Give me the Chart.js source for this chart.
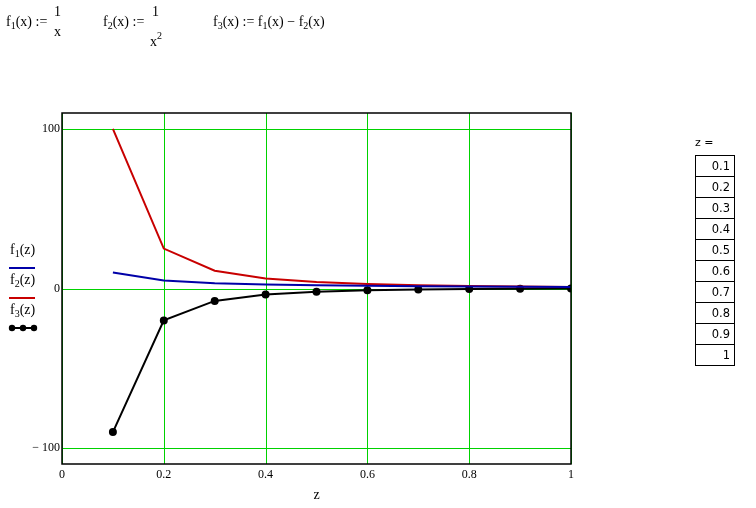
<!DOCTYPE html>
<html>
<head>
<meta charset="utf-8">
<script src="https://cdn.jsdelivr.net/npm/chart.js@4"></script>
<style>
  body { margin: 0; background: #fff; width: 756px; height: 508px; position: relative; overflow: hidden; }
  canvas { position: absolute; left: 0; top: 0; }
  .t { position: absolute; font-family: "Liberation Serif", serif; font-size: 14px; color: #000; white-space: nowrap; }
  .t sub { font-size: 10px; vertical-align: -3px; }
  .t sup { font-size: 10px; vertical-align: 7px; }
  .sample { position: absolute; height: 2px; width: 26px; }
  #ztable { position: absolute; left: 695px; top: 155px; border-collapse: collapse; font-family: "DejaVu Sans", sans-serif; font-size: 11.5px; }
  #ztable td { border: 1px solid #000; width: 39px; height: 21px; padding: 0 4px 0 0; text-align: right; box-sizing: border-box; }
</style>
</head>
<body>
<canvas id="chart" width="756" height="508"></canvas>

<!-- definitions at the top -->
<div class="t" style="left:6px;top:14px">f<sub>1</sub>(x) :=</div>
<div class="t" style="left:54px;top:4px">1</div>
<div class="t" style="left:54px;top:24px">x</div>
<div class="t" style="left:103px;top:14px">f<sub>2</sub>(x) :=</div>
<div class="t" style="left:152px;top:4px">1</div>
<div class="t" style="left:150px;top:30px">x<sup>2</sup></div>
<div class="t" style="left:213px;top:14px">f<sub>3</sub>(x) := f<sub>1</sub>(x) − f<sub>2</sub>(x)</div>

<!-- legend -->
<div class="t" style="left:10px;top:242px">f<sub>1</sub>(z)</div>
<div class="sample" style="left:9px;top:267px;background:#0000a8"></div>
<div class="t" style="left:10px;top:272px">f<sub>2</sub>(z)</div>
<div class="sample" style="left:9px;top:297px;background:#c80000"></div>
<div class="t" style="left:10px;top:302px">f<sub>3</sub>(z)</div>
<canvas id="dots" width="30" height="10" style="left:8px;top:323px"></canvas>

<!-- z table -->
<div class="t" style="left:695px;top:136px;font-family:'DejaVu Sans',sans-serif;font-size:11px">z =</div>
<table id="ztable"></table>

<script>
// data
var zValues = [0.1, 0.2, 0.3, 0.4, 0.5, 0.6, 0.7, 0.8, 0.9, 1];
var f1Values = [10, 5, 3.333, 2.5, 2, 1.667, 1.429, 1.25, 1.111, 1];
var f2Values = [100, 25, 11.111, 6.25, 4, 2.778, 2.041, 1.563, 1.235, 1];
var f3Values = [-90, -20, -7.778, -3.75, -2, -1.111, -0.612, -0.313, -0.123, 0];
var xTicks = [0, 0.2, 0.4, 0.6, 0.8, 1];
var yTicks = [-100, 0, 100];
var tableLabels = ['0.1', '0.2', '0.3', '0.4', '0.5', '0.6', '0.7', '0.8', '0.9', '1'];

var gridGreen = 'rgb(0, 210, 0)';
var serif = 'Liberation Serif';

function toPoints(ys) {
    return zValues.map(function (z, i) { return { x: z, y: ys[i] }; });
}

// fill the value table
var table = document.getElementById('ztable');
tableLabels.forEach(function (lbl) {
    var row = table.insertRow();
    row.insertCell().textContent = lbl;
});

// little legend sample for the dotted series
var dctx = document.getElementById('dots').getContext('2d');
dctx.strokeStyle = '#000';
dctx.lineWidth = 2;
dctx.beginPath(); dctx.moveTo(3, 5); dctx.lineTo(27, 5); dctx.stroke();
[4, 15, 26].forEach(function (x) {
    dctx.beginPath(); dctx.arc(x, 5, 3.2, 0, Math.PI * 2); dctx.fillStyle = '#000'; dctx.fill();
});

// crisp green grid (drawn from the scales) and a black frame around the plot area
var gridPlugin = {
    id: 'mcGrid',
    beforeDatasetsDraw: function (chart) {
        var a = chart.chartArea;
        var c = chart.ctx;
        c.save();
        c.strokeStyle = gridGreen;
        c.lineWidth = 1;
        xTicks.forEach(function (v) {
            var px = Math.round(chart.scales.x.getPixelForValue(v)) + 0.5;
            c.beginPath(); c.moveTo(px, a.top); c.lineTo(px, a.bottom); c.stroke();
        });
        yTicks.forEach(function (v) {
            var py = Math.round(chart.scales.y.getPixelForValue(v)) + 0.5;
            c.beginPath(); c.moveTo(a.left, py); c.lineTo(a.right, py); c.stroke();
        });
        c.restore();
    },
    afterDraw: function (chart) {
        var a = chart.chartArea;
        var c = chart.ctx;
        c.save();
        c.strokeStyle = '#000';
        c.lineWidth = 1.5;
        c.strokeRect(a.left, a.top, a.right - a.left, a.bottom - a.top);
        c.restore();
    }
};

var ctx = document.getElementById('chart').getContext('2d');
new Chart(ctx, {
    type: 'line',
    data: {
        datasets: [
            { label: 'f1(z)', data: toPoints(f1Values), borderColor: '#0000a8', borderWidth: 2, pointRadius: 0 },
            { label: 'f2(z)', data: toPoints(f2Values), borderColor: '#c80000', borderWidth: 2, pointRadius: 0 },
            { label: 'f3(z)', data: toPoints(f3Values), borderColor: '#000', backgroundColor: '#000', borderWidth: 2, pointRadius: 3 }
        ]
    },
    options: {
        responsive: false,
        animation: false,
        layout: { padding: { left: 0, top: 113, right: 185, bottom: 0 } },
        elements: { line: { tension: 0 } },
        plugins: { legend: { display: false }, tooltip: { enabled: false } },
        scales: {
            x: {
                type: 'linear',
                min: 0,
                max: 1,
                afterFit: function (s) { s.height = 44; },
                afterBuildTicks: function (s) { s.ticks = xTicks.map(function (v) { return { value: v }; }); },
                ticks: {
                    color: '#000',
                    padding: 4,
                    maxRotation: 0,
                    font: { family: serif, size: 12 },
                    callback: function (v) { return String(Math.round(v * 10) / 10); }
                },
                grid: { display: false, drawTicks: false },
                border: { display: false },
                title: { display: true, text: 'z', color: '#000', padding: { top: 6 }, font: { family: serif, size: 14 } }
            },
            y: {
                type: 'linear',
                min: -110,
                max: 110,
                afterFit: function (s) { s.width = 62; },
                afterBuildTicks: function (s) { s.ticks = yTicks.map(function (v) { return { value: v }; }); },
                ticks: {
                    color: '#000',
                    padding: 2,
                    font: { family: serif, size: 12 },
                    callback: function (v) { return v < 0 ? '\u2212 ' + Math.abs(v) : String(v); }
                },
                grid: { display: false, drawTicks: false },
                border: { display: false }
            }
        }
    },
    plugins: [gridPlugin]
});
</script>
</body>
</html>
